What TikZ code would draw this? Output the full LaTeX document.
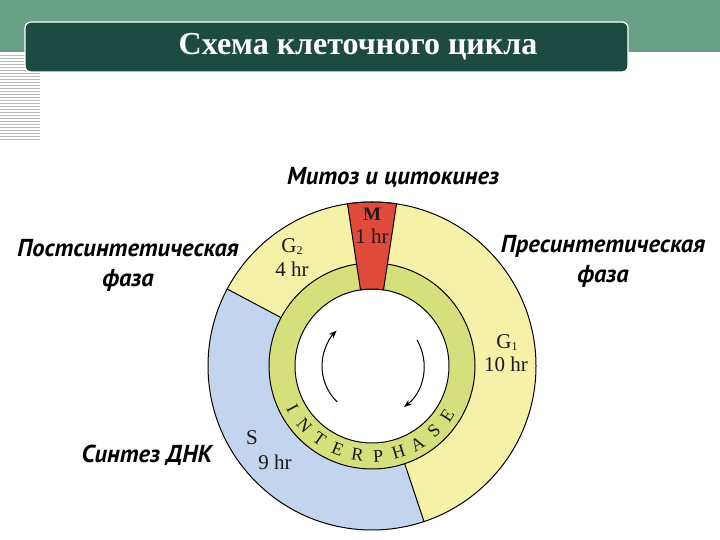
\documentclass[tikz,border=0pt]{standalone}
\usepackage{fontspec}
\setmainfont{Liberation Serif}
\newfontfamily\labelfont{PT Sans}
\usetikzlibrary{arrows.meta}

\definecolor{bandgreen}{HTML}{6BA088}
\definecolor{bardark}{HTML}{1E4B41}
\definecolor{phaseyellow}{HTML}{F6F1A8}
\definecolor{phaseblue}{HTML}{C2D4EE}
\definecolor{ringgreen}{HTML}{D5E07C}
\definecolor{mitred}{HTML}{E04A3A}

\tikzset{
  phase label/.style={font=\fontsize{21}{23}\selectfont, text=black!90, inner sep=0pt},
  side label/.style={font=\labelfont\bfseries\itshape\fontsize{24.5}{30}\selectfont, align=center, inner sep=0pt},
  ring line/.style={draw=black, line width=1pt},
  cycle arrow/.style={line width=1pt, -{Stealth[length=8pt,width=6pt]}},
  ring letter/.style={font=\fontsize{18}{18}\selectfont, text=black!90, inner sep=0pt},
}

\begin{document}
\begin{tikzpicture}[x=1pt,y=1pt]
\useasboundingbox (0,0) rectangle (720,540);
% header band
\fill[bandgreen] (0,488) rectangle (720,540);
\draw[bandgreen!70!gray, line width=2pt] (0,489) -- (720,489);
\foreach \y in {55,58,...,140}
  \draw[gray!55, line width=0.7pt] (0,540-\y) -- (40,540-\y);
\node[draw=white, line width=1.2pt, fill=bardark, rounded corners=6pt,
  minimum width=603pt, minimum height=50pt, inner sep=0pt] (titlebar) at (326.5,493) {};
\node[font=\bfseries\fontsize{32}{34}\selectfont, text=white] (title) at (358,493) {Схема клеточного цикла};

% cycle ring
\coordinate (c) at (372,174);
\fill[phaseyellow] (c) circle (164);
\fill[phaseblue] (c) -- ([shift={(152:164)}]c) arc (152:288.5:164) -- cycle;
\fill[ringgreen] (c) circle (103);
\fill[white] (c) circle (77);
\draw[ring line] (c) circle (164);
\draw[ring line] (c) circle (103);
\draw[ring line] (c) circle (77);
\draw[ring line] ([shift={(152:103)}]c) -- ([shift={(152:164)}]c);
\draw[ring line] ([shift={(288.5:103)}]c) -- ([shift={(288.5:164)}]c);
\filldraw[fill=mitred, ring line] ([shift={(81.4:77)}]c) -- ([shift={(81.4:164)}]c)
  arc (81.4:98.6:164) -- ([shift={(98.6:77)}]c) arc (98.6:81.4:77) -- cycle;

% interphase letters
\foreach \ch [count=\i from 0] in {I,N,T,E,R,P,H,A,S,E} {
  \pgfmathsetmacro\ang{208+13.2*\i}
  \node[ring letter, rotate=\ang+90] (ip\i) at ([shift={(\ang:90)}]c) {\ch};
}

% arrows
\draw[cycle arrow] ([shift={(226:50)}]c) arc (226:135:50);
\draw[cycle arrow] ([shift={(30:52)}]c) arc (30:-52:52);

% phase names
\node[phase label, font=\bfseries\fontsize{19}{21}\selectfont] (m) at (372,326) {M};
\node[phase label] (mtime) at (372,304) {1 hr};
\node[phase label] (gtwo) at (292,293) {G{\fontsize{12}{12}\selectfont\raisebox{-0.35ex}{2}}};
\node[phase label] (gtwotime) at (292,271) {4 hr};
\node[phase label] (gone) at (507,197) {G{\fontsize{12}{12}\selectfont\raisebox{-0.35ex}{1}}};
\node[phase label] (gonetime) at (506,176) {10 hr};
\node[phase label] (s) at (252,102) {S};
\node[phase label] (stime) at (275,78) {9 hr};

% outer labels
\node[side label] (mitosis) at (393,363) {Митоз и цитокинез};
\node[side label] (postsyn) at (128,275) {Постсинтетическая\\фаза};
\node[side label] (presyn) at (603,279) {Пресинтетическая\\фаза};
\node[side label] (dnasyn) at (147,85) {Синтез ДНК};
\end{tikzpicture}
\end{document}
